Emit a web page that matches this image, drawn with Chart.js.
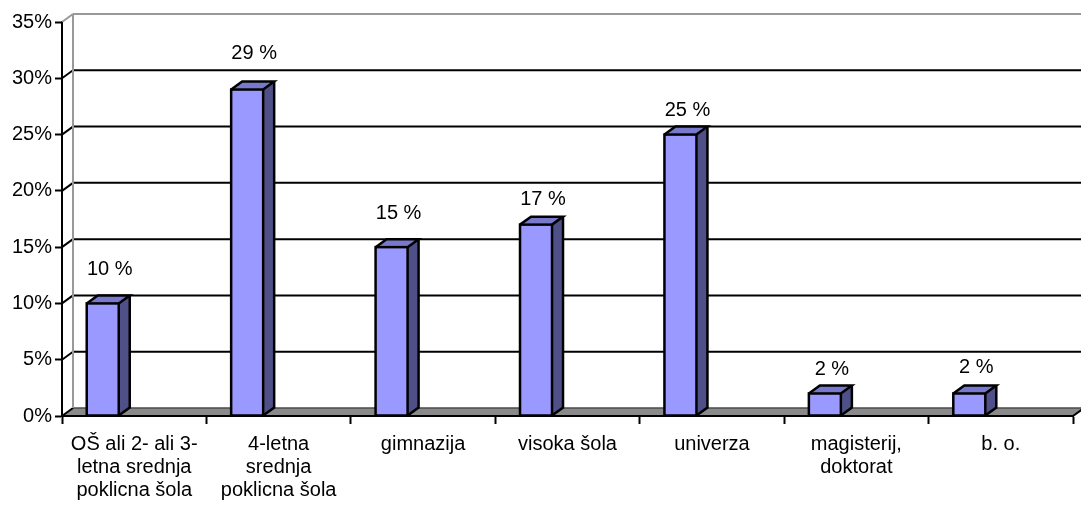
<!DOCTYPE html>
<html>
<head>
<meta charset="utf-8">
<script src="https://cdn.jsdelivr.net/npm/chart.js@4"></script>
<style>
  body { margin: 0; background: #fff; }
  #okvir { width: 1081px; height: 506px; }
</style>
</head>
<body>
<div id="okvir"><canvas id="grafikonIzobrazba"></canvas></div>
<script>
// podatki
const kategorije = [
  ["OŠ ali 2- ali 3-", "letna srednja", "poklicna šola"],
  ["4-letna", "srednja", "poklicna šola"],
  "gimnazija",
  "visoka šola",
  "univerza",
  ["magisterij,", "doktorat"],
  "b. o."
];
const delezi = [10, 29, 15, 17, 25, 2, 2];
const yMin = 0, yMax = 35, yKorak = 5;

// videz (ne podatki)
const dvigOznak = [34, 36, 34, 25, 24, 24, 26];
const STENA_X = 11, STENA_Y = 8;
const STEBER_X = 11, STEBER_Y = 8;
const PISAVA = "'Liberation Sans', Arial, sans-serif";

Chart.defaults.color = "#000";
Chart.defaults.font.family = PISAVA;
Chart.defaults.font.size = 20;

function crta(ctx, x1, y1, x2, y2, barva, debelina) {
  ctx.strokeStyle = barva;
  ctx.lineWidth = debelina;
  ctx.beginPath();
  ctx.moveTo(x1, y1);
  ctx.lineTo(x2, y2);
  ctx.stroke();
}

const prostor3d = {
  id: "prostor3d",
  beforeDatasetsDraw(chart) {
    const { ctx, chartArea: a, scales: { y } } = chart;
    ctx.save();

    // tla
    ctx.fillStyle = "#8a8a8a";
    ctx.beginPath();
    ctx.moveTo(a.left, a.bottom);
    ctx.lineTo(a.left + STENA_X, a.bottom - STENA_Y);
    ctx.lineTo(a.right + STENA_X, a.bottom - STENA_Y);
    ctx.lineTo(a.right, a.bottom);
    ctx.closePath();
    ctx.fill();

    // mreza na zadnji steni + posevnine na levi steni
    y.ticks.forEach(t => {
      const py = y.getPixelForValue(t.value);
      if (t.value === yMin) {
        crta(ctx, a.left + STENA_X, py - STENA_Y, a.right + STENA_X, py - STENA_Y, "#4a4a4a", 1.5);
        crta(ctx, a.left, py, a.left + STENA_X, py - STENA_Y, "#000", 2);
      } else if (t.value === yMax) {
        crta(ctx, a.left + STENA_X, py - STENA_Y, a.right + STENA_X, py - STENA_Y, "#999", 2);
        crta(ctx, a.left, py, a.left + STENA_X, py - STENA_Y, "#999", 2);
      } else {
        crta(ctx, a.left + STENA_X, py - STENA_Y, a.right + STENA_X, py - STENA_Y, "#000", 2);
        crta(ctx, a.left, py, a.left + STENA_X, py - STENA_Y, "#000", 2);
      }
    });

    // zadnji rob leve stene
    crta(ctx, a.left + STENA_X, a.top - STENA_Y, a.left + STENA_X, a.bottom - STENA_Y, "#999", 2);

    // sprednji rob tal
    crta(ctx, a.left, a.bottom, a.right, a.bottom, "#000", 2);
    crta(ctx, a.right, a.bottom, a.right + STENA_X, a.bottom - STENA_Y, "#000", 2);
    crta(ctx, a.left, a.top, a.left, a.bottom, "#000", 2);

    ctx.restore();
  },
  afterDatasetsDraw(chart) {
    const { ctx } = chart;
    const meta = chart.getDatasetMeta(0);
    const sirKat = chart.scales.x.width / kategorije.length;
    ctx.save();
    ctx.lineJoin = "miter";
    meta.data.forEach((el, i) => {
      const w = el.width;
      const x0 = el.x - w / 2 - 0.218 * sirKat;
      const x1 = x0 + w;
      const top = el.y, base = el.base;

      // sprednja ploskev
      ctx.fillStyle = "#9999ff";
      ctx.fillRect(x0, top, w, base - top);

      // zgornja ploskev
      ctx.fillStyle = "#7878cc";
      ctx.beginPath();
      ctx.moveTo(x0, top);
      ctx.lineTo(x0 + STEBER_X, top - STEBER_Y);
      ctx.lineTo(x1 + STEBER_X, top - STEBER_Y);
      ctx.lineTo(x1, top);
      ctx.closePath();
      ctx.fill();

      // stranska ploskev
      ctx.fillStyle = "#505088";
      ctx.beginPath();
      ctx.moveTo(x1, top);
      ctx.lineTo(x1 + STEBER_X, top - STEBER_Y);
      ctx.lineTo(x1 + STEBER_X, base - STEBER_Y);
      ctx.lineTo(x1, base);
      ctx.closePath();
      ctx.fill();

      // obrobe
      ctx.strokeStyle = "#000";
      ctx.lineWidth = 2.5;
      ctx.strokeRect(x0, top, w, base - top);
      ctx.beginPath();
      ctx.moveTo(x0, top);
      ctx.lineTo(x0 + STEBER_X, top - STEBER_Y);
      ctx.lineTo(x1 + STEBER_X, top - STEBER_Y);
      ctx.lineTo(x1, top);
      ctx.moveTo(x1 + STEBER_X, top - STEBER_Y);
      ctx.lineTo(x1 + STEBER_X, base - STEBER_Y);
      ctx.lineTo(x1, base);
      ctx.stroke();

      // oznaka
      ctx.fillStyle = "#000";
      ctx.font = "20px " + PISAVA;
      ctx.textAlign = "center";
      ctx.textBaseline = "middle";
      ctx.fillText(delezi[i] + " %", x0 + w / 2 + 7, top - dvigOznak[i]);
    });
    ctx.restore();
  }
};

new Chart(document.getElementById("grafikonIzobrazba"), {
  type: "bar",
  data: {
    labels: kategorije,
    datasets: [{
      data: delezi,
      backgroundColor: "rgba(0,0,0,0)",
      borderWidth: 0,
      categoryPercentage: 1,
      barPercentage: 0.2216
    }]
  },
  options: {
    responsive: true,
    maintainAspectRatio: false,
    animation: false,
    events: [],
    layout: { padding: { top: 22, right: 8, left: 0, bottom: 0 } },
    plugins: { legend: { display: false }, tooltip: { enabled: false } },
    scales: {
      x: {
        afterFit: s => { s.height = 90; },
        grid: { drawOnChartArea: false, drawTicks: true, tickLength: 8, tickColor: "#000", tickWidth: 2, offset: true },
        border: { display: true, color: "#000", width: 2 },
        ticks: { maxRotation: 0, minRotation: 0, autoSkip: false, padding: 9, font: { size: 20, lineHeight: 1.15 } }
      },
      y: {
        min: yMin,
        max: yMax,
        afterFit: s => { s.width = 62; },
        grid: { drawOnChartArea: false, drawTicks: true, tickLength: 7, tickColor: "#000", tickWidth: 2 },
        border: { display: true, color: "#000", width: 2 },
        ticks: { stepSize: yKorak, padding: 3, callback: v => v + "%", font: { size: 20 } }
      }
    }
  },
  plugins: [prostor3d]
});
</script>
</body>
</html>
